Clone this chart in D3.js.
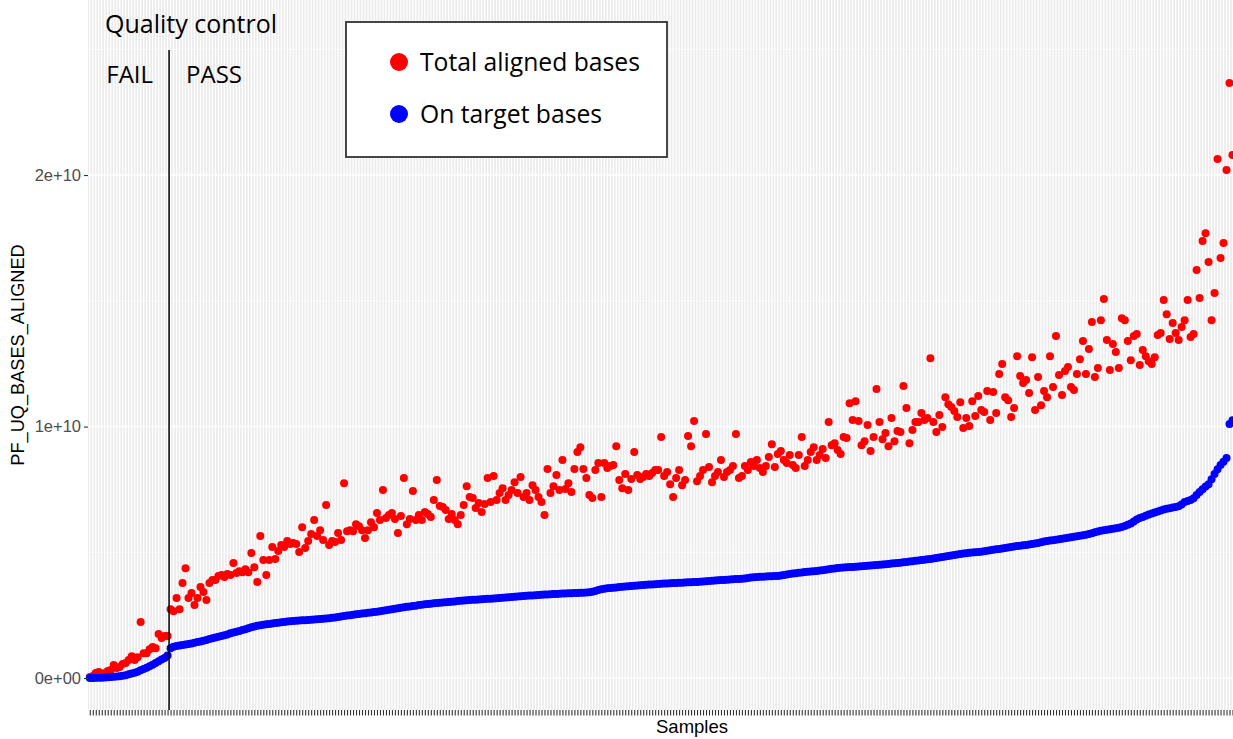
<!DOCTYPE html>
<html>
<head>
<meta charset="utf-8">
<script src="https://cdn.jsdelivr.net/npm/d3@7"></script>
<style>
  html, body { margin: 0; padding: 0; background: #ffffff; }
  svg { display: block; }
</style>
</head>
<body>
<svg id="chart" width="1233" height="739"></svg>
<script>
// Per-sample aligned bases, in billions (1e9), samples ordered by on-target bases
const totalAlignedGb = [
  0.04, 0.08, 0.20, 0.24, 0.16, 0.20, 0.28, 0.32, 0.52, 0.40,
  0.44, 0.56, 0.60, 0.72, 0.87, 0.72, 0.83, 2.23, 0.99, 0.99,
  1.15, 1.23, 1.19, 1.75, 1.59, 1.67, 1.67, 2.74, 2.66, 3.18,
  2.74, 3.78, 4.37, 3.18, 3.38, 2.90, 3.18, 3.62, 3.42, 3.10,
  3.78, 3.90, 3.90, 4.06, 4.10, 4.02, 4.14, 4.10, 4.57, 4.18,
  4.25, 4.21, 4.33, 4.21, 4.97, 4.41, 3.82, 5.65, 4.69, 4.10,
  4.69, 5.21, 4.73, 5.05, 5.29, 5.21, 5.45, 5.33, 5.37, 5.33,
  5.01, 6.00, 5.17, 5.45, 5.73, 6.28, 5.65, 5.88, 5.49, 6.88,
  5.29, 5.45, 5.41, 5.77, 5.49, 7.75, 5.84, 5.88, 5.84, 6.12,
  6.04, 5.88, 5.57, 5.88, 6.20, 6.00, 6.56, 6.28, 7.48, 6.36,
  6.48, 6.56, 6.32, 5.77, 6.44, 7.95, 6.12, 6.32, 7.44, 6.28,
  6.48, 6.28, 6.60, 6.52, 6.40, 7.08, 7.87, 6.84, 6.80, 6.68,
  6.32, 6.52, 6.28, 6.12, 6.48, 6.88, 7.63, 7.20, 7.16, 6.76,
  6.96, 6.60, 6.92, 7.95, 7.00, 8.03, 7.08, 7.36, 7.55, 7.08,
  7.28, 7.48, 7.79, 7.36, 7.99, 7.20, 7.36, 7.08, 7.67, 7.48,
  7.20, 7.00, 6.48, 8.31, 7.36, 7.63, 8.07, 7.48, 8.67, 7.52,
  7.75, 7.40, 8.31, 8.99, 9.18, 8.31, 7.95, 7.28, 7.16, 8.27,
  8.55, 7.20, 8.55, 8.35, 8.43, 8.47, 9.22, 7.87, 7.55, 8.11,
  7.48, 7.91, 8.99, 8.07, 7.91, 7.99, 8.11, 8.03, 8.15, 8.27,
  8.27, 9.58, 8.03, 8.19, 7.71, 7.20, 7.95, 8.27, 7.67, 7.87,
  9.62, 9.22, 10.22, 7.83, 8.03, 8.27, 9.70, 8.39, 7.79, 8.03,
  8.19, 8.67, 7.99, 8.19, 8.27, 8.43, 9.70, 7.95, 8.03, 8.43,
  8.27, 8.59, 8.43, 8.67, 8.35, 8.19, 8.43, 8.79, 9.30, 8.39,
  8.91, 9.03, 8.67, 8.55, 8.87, 8.47, 8.35, 8.87, 9.58, 8.43,
  8.67, 8.99, 9.18, 8.67, 8.87, 9.11, 8.75, 10.18, 9.26, 9.34,
  9.07, 8.91, 9.58, 9.54, 10.93, 10.26, 11.01, 10.22, 9.26, 9.42,
  10.06, 9.03, 9.58, 11.49, 10.18, 9.50, 9.74, 9.22, 10.34, 9.42,
  9.82, 9.78, 11.61, 10.74, 9.34, 9.86, 10.18, 10.18, 10.54, 10.26,
  10.34, 12.72, 10.18, 9.78, 10.46, 9.98, 11.17, 10.89, 10.78, 10.62,
  10.38, 10.97, 9.94, 10.34, 10.02, 11.01, 10.42, 11.21, 10.66, 10.58,
  11.41, 10.26, 11.37, 10.54, 12.09, 12.49, 11.17, 11.05, 10.38, 10.74,
  12.80, 12.01, 11.73, 11.85, 11.33, 12.76, 10.66, 11.97, 10.85, 11.41,
  11.17, 12.80, 11.57, 13.60, 12.05, 11.25, 12.21, 12.37, 11.57, 11.45,
  12.09, 12.68, 13.40, 12.09, 13.08, 14.16, 11.97, 12.33, 14.23, 15.07,
  13.44, 12.25, 13.28, 12.96, 12.33, 14.31, 14.23, 13.40, 12.64, 13.60,
  13.68, 12.45, 13.04, 12.80, 12.60, 12.49, 12.76, 13.64, 13.72, 15.03,
  14.47, 13.48, 14.12, 13.72, 13.44, 13.96, 14.23, 15.03, 13.56, 13.68,
  16.22, 15.11, 17.38, 17.69, 16.54, 14.23, 15.31, 20.64, 16.70, 17.30,
  20.20, 23.66, 20.80
];

const onTargetGb = [
  0.00, 0.00, 0.01, 0.01, 0.01, 0.02, 0.03, 0.04, 0.05, 0.06,
  0.07, 0.09, 0.11, 0.15, 0.18, 0.21, 0.25, 0.31, 0.36, 0.41,
  0.47, 0.53, 0.60, 0.67, 0.74, 0.80, 0.90,
  1.19, 1.24, 1.27, 1.29, 1.31, 1.33, 1.35, 1.37, 1.40, 1.43,
  1.45, 1.48, 1.51, 1.55, 1.58, 1.61, 1.64, 1.67, 1.70, 1.73,
  1.78, 1.81, 1.84, 1.87, 1.91, 1.94, 1.98,
  2.02, 2.05, 2.08, 2.10, 2.12, 2.14, 2.15, 2.17, 2.19, 2.20,
  2.22, 2.23, 2.25, 2.26, 2.27, 2.28, 2.29, 2.30, 2.30, 2.31,
  2.32, 2.33, 2.34, 2.35, 2.36, 2.37, 2.38, 2.40, 2.41, 2.43,
  2.45, 2.47, 2.49, 2.50, 2.52, 2.54, 2.55, 2.57, 2.58, 2.60,
  2.61, 2.63, 2.64, 2.66, 2.68, 2.70, 2.72, 2.74, 2.76, 2.78,
  2.80, 2.82, 2.84, 2.85, 2.87, 2.88, 2.90,
  2.91, 2.93, 2.94, 2.95, 2.97, 2.98, 2.99, 3.00, 3.01, 3.02,
  3.03, 3.04, 3.06, 3.07, 3.08, 3.09, 3.10, 3.11, 3.11, 3.12,
  3.13, 3.14, 3.15, 3.15, 3.16, 3.17, 3.18, 3.19, 3.20, 3.21,
  3.22, 3.23, 3.24, 3.25, 3.26, 3.27, 3.28, 3.28, 3.29, 3.30,
  3.31, 3.32, 3.32, 3.33, 3.34, 3.34, 3.35, 3.36, 3.36, 3.37,
  3.37, 3.38, 3.38, 3.39, 3.39, 3.40, 3.41, 3.43, 3.46, 3.50,
  3.53, 3.55, 3.57, 3.58, 3.59, 3.60, 3.62, 3.63, 3.64, 3.65,
  3.66, 3.67, 3.68, 3.69, 3.70, 3.71, 3.72, 3.72, 3.73, 3.74,
  3.75, 3.76, 3.76, 3.77, 3.78, 3.78, 3.79, 3.79, 3.80, 3.81,
  3.81, 3.82, 3.82, 3.83, 3.84, 3.85, 3.86, 3.87, 3.88, 3.89,
  3.90, 3.90, 3.91, 3.92, 3.93, 3.94, 3.94, 3.95, 3.96, 3.98,
  4.00, 4.01, 4.02, 4.03, 4.03, 4.04, 4.05, 4.05, 4.06, 4.06,
  4.08, 4.10, 4.12, 4.14, 4.16, 4.17, 4.19, 4.20, 4.22, 4.23,
  4.24, 4.25, 4.26, 4.28, 4.29, 4.31, 4.33, 4.35, 4.36, 4.38,
  4.39, 4.40, 4.41, 4.42, 4.42, 4.43, 4.44, 4.45, 4.46, 4.47,
  4.48, 4.49, 4.50, 4.51, 4.52, 4.53, 4.54, 4.55, 4.56, 4.57,
  4.58, 4.60, 4.61, 4.63, 4.64, 4.66, 4.67, 4.69, 4.70, 4.72,
  4.73, 4.75, 4.77, 4.79, 4.81, 4.83, 4.85, 4.87, 4.89, 4.91,
  4.93, 4.95, 4.96, 4.98, 4.99, 5.00, 5.01, 5.02, 5.04, 5.06,
  5.08, 5.10, 5.12, 5.13, 5.15, 5.17, 5.19, 5.21, 5.23, 5.25,
  5.26, 5.28, 5.29, 5.31, 5.33, 5.35, 5.37, 5.40, 5.43, 5.45,
  5.47, 5.48, 5.50, 5.52, 5.54, 5.56, 5.58, 5.60, 5.62, 5.64,
  5.66, 5.68, 5.70, 5.73, 5.76, 5.80, 5.83, 5.86, 5.88, 5.90,
  5.92, 5.94, 5.96, 5.98, 6.01, 6.05, 6.10, 6.15, 6.22, 6.30,
  6.36, 6.40, 6.45, 6.50, 6.54, 6.58, 6.62, 6.66, 6.70, 6.73,
  6.75, 6.78, 6.80, 6.83, 6.90, 7.00, 7.04, 7.08, 7.15, 7.28,
  7.40, 7.51, 7.62, 7.71, 7.90, 8.11, 8.30, 8.47, 8.60, 8.75,
  10.10, 10.25
];

// Number of leading samples that failed quality control
const failCount = 27;

const yTicks = [0, 1e10, 2e10];
const yTickLabels = ["0e+00", "1e+10", "2e+10"];
const yMinorTicks = [0.5e10, 1.5e10, 2.5e10];

const seriesNames = ["Total aligned bases", "On target bases"];
const seriesColors = ["#FF0000", "#0000FF"];

const sampleIds = totalAlignedGb.map((_, i) => "S" + (i + 1));
const GB = 1e9;

// ---- layout ----
const panel = { left: 88, right: 1234.3, top: 0, bottom: 710 };
const axisFont = "'Liberation Sans', Arial, Helvetica, sans-serif";
const noteFont = "'Open Sans', 'Noto Sans', sans-serif";
const pointRadius = 4.0;

const svg = d3.select("#chart");

const x = d3.scalePoint()
  .domain(sampleIds)
  .range([panel.left, panel.right])
  .padding(0.6);

const y = d3.scaleLinear()
  .domain([-1.27e9, 26.96e9])
  .range([panel.bottom, panel.top]);

// panel background
svg.append("rect")
  .attr("x", panel.left).attr("y", panel.top)
  .attr("width", panel.right - panel.left)
  .attr("height", panel.bottom - panel.top)
  .attr("fill", "#EBEBEB");

const grid = svg.append("g");

// minor horizontal grid
grid.selectAll("line.ymin").data(yMinorTicks).join("line")
  .attr("class", "ymin")
  .attr("x1", panel.left).attr("x2", panel.right)
  .attr("y1", d => y(d)).attr("y2", d => y(d))
  .attr("stroke", "#ffffff").attr("stroke-width", 0.6);

// vertical grid, one per sample
grid.selectAll("line.xg").data(sampleIds).join("line")
  .attr("class", "xg")
  .attr("x1", d => x(d)).attr("x2", d => x(d))
  .attr("y1", panel.top).attr("y2", panel.bottom)
  .attr("stroke", "#ffffff").attr("stroke-width", 1.3);

// major horizontal grid
grid.selectAll("line.ymaj").data(yTicks).join("line")
  .attr("class", "ymaj")
  .attr("x1", panel.left).attr("x2", panel.right)
  .attr("y1", d => y(d)).attr("y2", d => y(d))
  .attr("stroke", "#ffffff").attr("stroke-width", 1.4);

// points: total aligned first, on-target on top
const pts = svg.append("g");
pts.selectAll("circle.tot").data(totalAlignedGb).join("circle")
  .attr("class", "tot")
  .attr("cx", (d, i) => x(sampleIds[i]))
  .attr("cy", d => y(d * GB))
  .attr("r", pointRadius)
  .attr("fill", seriesColors[0]);

pts.selectAll("circle.on").data(onTargetGb).join("circle")
  .attr("class", "on")
  .attr("cx", (d, i) => x(sampleIds[i]))
  .attr("cy", d => y(d * GB))
  .attr("r", pointRadius)
  .attr("fill", seriesColors[1]);

// y axis
const yAxis = d3.axisLeft(y)
  .tickValues(yTicks)
  .tickFormat((d, i) => yTickLabels[i])
  .tickSize(4)
  .tickPadding(3);
const yg = svg.append("g")
  .attr("transform", `translate(${panel.left},0)`)
  .call(yAxis);
yg.select(".domain").remove();
yg.selectAll(".tick line").attr("stroke", "#333333").attr("stroke-width", 1.1);
yg.selectAll(".tick text")
  .attr("fill", "#4D4D4D")
  .style("font-family", axisFont)
  .style("font-size", "16.5px");

// x axis (a tick per sample, no labels)
const xAxis = d3.axisBottom(x).tickSize(5.5).tickFormat("");
const xg = svg.append("g")
  .attr("transform", `translate(0,${panel.bottom})`)
  .call(xAxis);
xg.select(".domain").remove();
xg.selectAll(".tick line").attr("stroke", "#333333").attr("stroke-width", 1.1);

// axis titles
svg.append("text")
  .attr("x", 692)
  .attr("y", 733)
  .attr("text-anchor", "middle")
  .style("font-family", axisFont)
  .style("font-size", "18.5px")
  .attr("fill", "#000")
  .text("Samples");

svg.append("text")
  .attr("transform", `translate(24,${(panel.top + panel.bottom) / 2}) rotate(-90)`)
  .attr("text-anchor", "middle")
  .style("font-family", axisFont)
  .style("font-size", "18.2px")
  .attr("fill", "#000")
  .text("PF_UQ_BASES_ALIGNED");

// quality-control split
const splitX = (x(sampleIds[failCount - 1]) + x(sampleIds[failCount])) / 2;
svg.append("line")
  .attr("x1", splitX).attr("x2", splitX)
  .attr("y1", 50).attr("y2", panel.bottom)
  .attr("stroke", "#000").attr("stroke-width", 1.5);

svg.append("text")
  .attr("x", 105).attr("y", 33)
  .style("font-family", noteFont).style("font-size", "25px")
  .attr("fill", "#000")
  .text("Quality control");
svg.append("text")
  .attr("x", splitX - 16).attr("y", 83)
  .attr("text-anchor", "end")
  .style("font-family", noteFont).style("font-size", "24px")
  .attr("fill", "#000")
  .text("FAIL");
svg.append("text")
  .attr("x", splitX + 17).attr("y", 83)
  .style("font-family", noteFont).style("font-size", "24px")
  .attr("fill", "#000")
  .text("PASS");

// legend
const legend = svg.append("g").attr("transform", "translate(346,22)");
legend.append("rect")
  .attr("x", 0).attr("y", 0).attr("width", 321).attr("height", 135)
  .attr("fill", "#ffffff").attr("stroke", "#333333").attr("stroke-width", 1.8);
const items = legend.selectAll("g.item").data(seriesNames).join("g")
  .attr("class", "item")
  .attr("transform", (d, i) => `translate(0,${40 + i * 52})`);
items.append("circle")
  .attr("cx", 53).attr("cy", 0).attr("r", 9)
  .attr("fill", (d, i) => seriesColors[i]);
items.append("text")
  .attr("x", 74).attr("y", 8.5)
  .style("font-family", noteFont).style("font-size", "24.7px")
  .attr("fill", "#000")
  .text(d => d);
</script>
</body>
</html>
